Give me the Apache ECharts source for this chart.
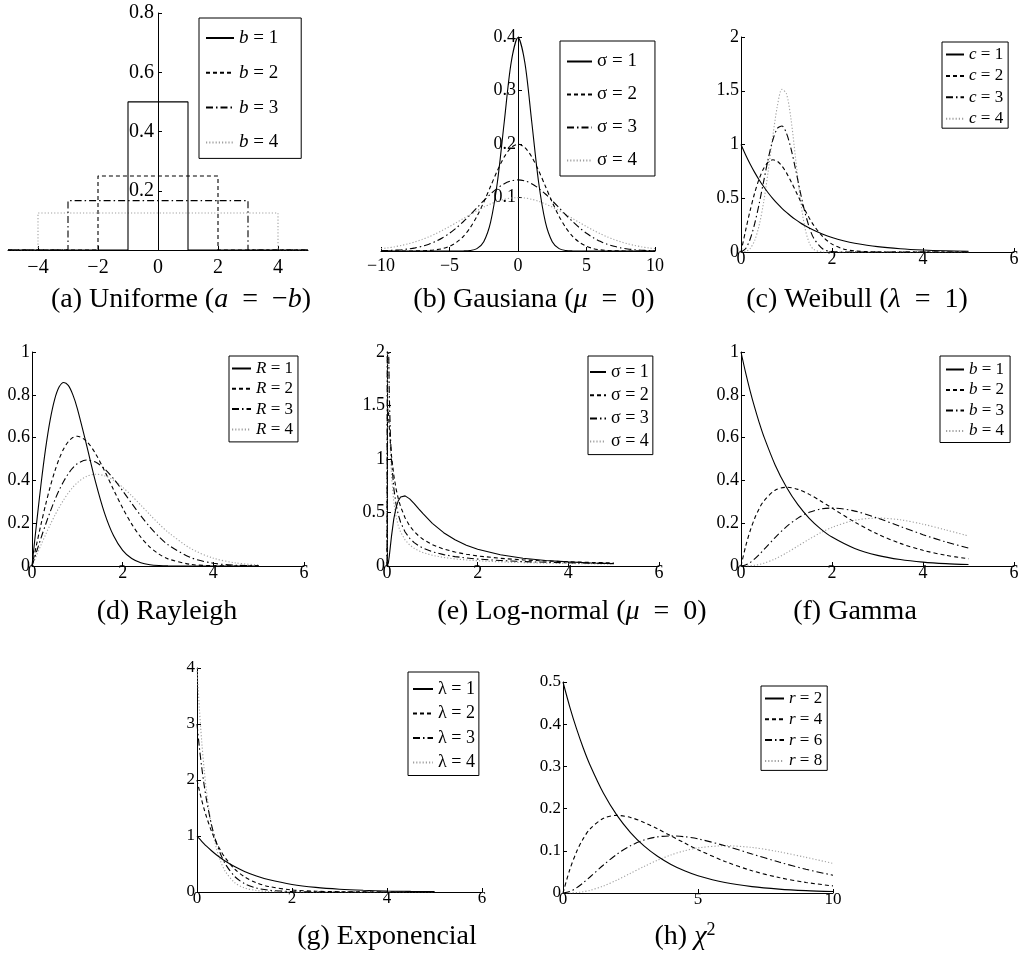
<!DOCTYPE html>
<html><head><meta charset="utf-8">
<script src="https://cdn.jsdelivr.net/npm/echarts@6/dist/echarts.min.js"></script>
<style>html,body{margin:0;padding:0;background:#fff}#c{width:1022px;height:957px}</style>
</head><body><div id="c"></div>
<script>
// ---------- (a) Uniforme ----------
const uniX1 = [-5,-1,-1,1,1,5], uniY1 = [0,0,0.5,0.5,0,0];
const uniX2 = [-5,-2,-2,2,2,5], uniY2 = [0,0,0.25,0.25,0,0];
const uniX3 = [-5,-3,-3,3,3,5], uniY3 = [0,0,0.1667,0.1667,0,0];
const uniX4 = [-5,-4,-4,4,4,5], uniY4 = [0,0,0.125,0.125,0,0];
const uniTicks = [-4,-2,0,2,4];
// ---------- (b) Gausiana ----------
const gaussX = [-10,-9.5,-9,-8.5,-8,-7.5,-7,-6.5,-6,-5.5,-5,-4.5,-4,-3.5,-3,-2.5,-2,-1.5,-1,-0.5,0,0.5,1,1.5,2,2.5,3,3.5,4,4.5,5,5.5,6,6.5,7,7.5,8,8.5,9,9.5,10];
const gauss1 = [0,0,0,0,0,0,0,0,0,0,0,0.00002,0.00013,0.00087,0.00443,0.0175,0.0540,0.1295,0.2420,0.3521,0.3989,0.3521,0.2420,0.1295,0.0540,0.0175,0.00443,0.00087,0.00013,0.00002,0,0,0,0,0,0,0,0,0,0,0];
const gauss2 = [0,0,0.00001,0.00003,0.00007,0.00018,0.00044,0.00101,0.00222,0.00455,0.00876,0.0159,0.0270,0.0431,0.0648,0.0913,0.1210,0.1506,0.1760,0.1933,0.1995,0.1933,0.1760,0.1506,0.1210,0.0913,0.0648,0.0431,0.0270,0.0159,0.00876,0.00455,0.00222,0.00101,0.00044,0.00018,0.00007,0.00003,0.00001,0,0];
const gauss3 = [0.00051,0.00088,0.00148,0.00240,0.00380,0.00584,0.00874,0.0127,0.0180,0.0248,0.0332,0.0432,0.0547,0.0673,0.0807,0.0940,0.1065,0.1174,0.1258,0.1311,0.1330,0.1311,0.1258,0.1174,0.1065,0.0940,0.0807,0.0673,0.0547,0.0432,0.0332,0.0248,0.0180,0.0127,0.00874,0.00584,0.00380,0.00240,0.00148,0.00088,0.00051];
const gauss4 = [0.0044,0.0059,0.0079,0.0104,0.0135,0.0172,0.0216,0.0266,0.0324,0.0388,0.0457,0.0530,0.0605,0.0680,0.0753,0.0820,0.0880,0.0930,0.0967,0.0990,0.0997,0.0990,0.0967,0.0930,0.0880,0.0820,0.0753,0.0680,0.0605,0.0530,0.0457,0.0388,0.0324,0.0266,0.0216,0.0172,0.0135,0.0104,0.0079,0.0059,0.0044];
// ---------- (c) Weibull ----------
const weibX = [0,0.1,0.2,0.3,0.4,0.5,0.6,0.7,0.8,0.9,1.0,1.1,1.2,1.3,1.4,1.5,1.6,1.8,2.0,2.25,2.5,3,3.5,4,4.5,5];
const weib1 = [1,0.9048,0.8187,0.7408,0.6703,0.6065,0.5488,0.4966,0.4493,0.4066,0.3679,0.3329,0.3012,0.2725,0.2466,0.2231,0.2019,0.1653,0.1353,0.1054,0.0821,0.0498,0.0302,0.0183,0.0111,0.0067];
const weib2 = [0,0.1980,0.3843,0.5484,0.6817,0.7788,0.8372,0.8577,0.8437,0.8007,0.7358,0.6560,0.5686,0.4798,0.3944,0.3162,0.2474,0.1410,0.0733,0.0285,0.0097,0.0007,0,0,0,0];
const weib3 = [0,0.0300,0.1190,0.2628,0.4502,0.6619,0.8702,1.0432,1.1506,1.1722,1.1036,0.9591,0.7674,0.5634,0.3782,0.2310,0.1278,0.0285,0.0040,0.0002,0,0,0,0,0,0];
const weib4 = [0,0.0040,0.0319,0.1071,0.2495,0.4697,0.7590,1.0792,1.3597,1.5130,1.4715,1.2314,0.8692,0.5054,0.2355,0.0855,0.0233,0.0006,0,0,0,0,0,0,0,0];
// ---------- (d) Rayleigh ----------
const rayX = [0,0.1,0.2,0.3,0.4,0.5,0.6,0.7,0.8,0.9,1.0,1.2,1.4,1.6,1.8,2.0,2.2,2.4,2.6,2.8,3.0,3.5,4.0,4.5,5.0];
const ray1 = [0,0.1980,0.3843,0.5484,0.6817,0.7788,0.8372,0.8577,0.8437,0.8007,0.7358,0.5686,0.3944,0.2474,0.1410,0.0733,0.0348,0.0151,0.0060,0.0022,0.0007,0,0,0,0];
const ray2 = [0,0.0995,0.1960,0.2868,0.3692,0.4412,0.5012,0.5479,0.5809,0.6003,0.6065,0.5841,0.5254,0.4449,0.3562,0.2707,0.1956,0.1347,0.0885,0.0556,0.0333,0.0077,0.0013,0.0002,0];
const ray3 = [0,0.0664,0.1316,0.1941,0.2528,0.3067,0.3548,0.3963,0.4309,0.4580,0.4777,0.4950,0.4856,0.4544,0.4075,0.3515,0.2922,0.2346,0.1821,0.1368,0.0996,0.0393,0.0129,0.0035,0.0008];
const ray4 = [0,0.0499,0.0990,0.1467,0.1922,0.2349,0.2742,0.3096,0.3409,0.3675,0.3894,0.4186,0.4288,0.4218,0.4004,0.3679,0.3280,0.2843,0.2399,0.1972,0.1581,0.0818,0.0366,0.0142,0.0048];
// ---------- (e) Log-normal ----------
const lognX = [0,0.01,0.02,0.03,0.05,0.075,0.1,0.15,0.2,0.25,0.3,0.4,0.5,0.6,0.7,0.8,1.0,1.25,1.5,1.75,2,2.5,3,3.5,4,4.5,5];
const logn1 = [0,0.0010,0.0095,0.0284,0.0898,0.1857,0.2815,0.4398,0.5462,0.6105,0.6442,0.6555,0.6275,0.5836,0.5348,0.4864,0.3989,0.3113,0.2450,0.1949,0.1569,0.1049,0.0727,0.0520,0.0382,0.0286,0.0218];
const logn2 = [0,1.4075,1.4724,1.4299,1.2993,1.1497,1.0282,0.8480,0.7215,0.6275,0.5547,0.4490,0.3757,0.3218,0.2805,0.2478,0.1995,0.1586,0.1303,0.1096,0.0939,0.0718,0.0572,0.0468,0.0392,0.0334,0.0289];
const logn3 = [0,4.0933,2.8412,2.2387,1.6154,1.2214,0.9906,0.7259,0.5758,0.4781,0.4090,0.3173,0.2590,0.2184,0.1886,0.1658,0.1330,0.1061,0.0878,0.0747,0.0647,0.0508,0.0415,0.0348,0.0299,0.0261,0.0230];
const logn4 = [0,5.1407,3.0911,2.2638,1.5069,1.0783,0.8451,0.5942,0.4599,0.3757,0.3177,0.2429,0.1965,0.1649,0.1419,0.1245,0.0997,0.0797,0.0662,0.0564,0.0491,0.0389,0.0320,0.0271,0.0235,0.0207,0.0184];
// ---------- (f) Gamma ----------
const gamX = [0,0.1,0.2,0.3,0.4,0.5,0.75,1,1.25,1.5,1.75,2,2.5,3,3.5,4,4.5,5];
const gam1 = [1,0.9048,0.8187,0.7408,0.6703,0.6065,0.4724,0.3679,0.2865,0.2231,0.1738,0.1353,0.0821,0.0498,0.0302,0.0183,0.0111,0.0067];
const gam2 = [0,0.0905,0.1637,0.2222,0.2681,0.3033,0.3543,0.3679,0.3581,0.3347,0.3041,0.2707,0.2052,0.1494,0.1057,0.0733,0.0500,0.0337];
const gam3 = [0,0.0045,0.0164,0.0333,0.0536,0.0758,0.1329,0.1839,0.2238,0.2510,0.2661,0.2707,0.2565,0.2240,0.1850,0.1465,0.1125,0.0842];
const gam4 = [0,0.0002,0.0011,0.0033,0.0072,0.0126,0.0332,0.0613,0.0933,0.1255,0.1552,0.1804,0.2138,0.2240,0.2158,0.1954,0.1687,0.1404];
// ---------- (g) Exponencial ----------
const expX = [0,0.05,0.1,0.15,0.2,0.3,0.4,0.5,0.6,0.8,1.0,1.25,1.5,2,2.5,3,3.5,4,4.5,5];
const exp1 = [1,0.9512,0.9048,0.8607,0.8187,0.7408,0.6703,0.6065,0.5488,0.4493,0.3679,0.2865,0.2231,0.1353,0.0821,0.0498,0.0302,0.0183,0.0111,0.0067];
const exp2 = [2,1.8097,1.6375,1.4816,1.3406,1.0976,0.8987,0.7358,0.6024,0.4038,0.2707,0.1642,0.0996,0.0366,0.0135,0.0050,0.0018,0.0007,0.0002,0.0001];
const exp3 = [3,2.5821,2.2225,1.9129,1.6464,1.2197,0.9036,0.6694,0.4959,0.2722,0.1494,0.0706,0.0333,0.0074,0.0017,0.0004,0.0001,0,0,0];
const exp4 = [4,3.2749,2.6813,2.1952,1.7973,1.2048,0.8076,0.5413,0.3629,0.1630,0.0733,0.0270,0.0099,0.0013,0.0002,0,0,0,0,0];
// ---------- (h) chi-squared ----------
const chiX = [0,0.25,0.5,0.75,1,1.5,2,2.5,3,3.5,4,4.5,5,6,7,8,9,10];
const chi2 = [0.5,0.4412,0.3894,0.3436,0.3033,0.2362,0.1839,0.1433,0.1116,0.0869,0.0677,0.0527,0.0410,0.0249,0.0151,0.0092,0.0056,0.0034];
const chi4 = [0,0.0552,0.0974,0.1289,0.1516,0.1771,0.1839,0.1791,0.1673,0.1521,0.1353,0.1186,0.1026,0.0747,0.0528,0.0366,0.0250,0.0168];
const chi6 = [0,0.0034,0.0122,0.0242,0.0379,0.0664,0.0920,0.1119,0.1255,0.1330,0.1353,0.1334,0.1283,0.1120,0.0925,0.0733,0.0562,0.0421];
const chi8 = [0,0.0001,0.0010,0.0030,0.0063,0.0166,0.0307,0.0466,0.0628,0.0776,0.0902,0.1001,0.1069,0.1120,0.1079,0.0977,0.0844,0.0702];
// ---------- labels ----------
const labA = ['{i|b} = 1','{i|b} = 2','{i|b} = 3','{i|b} = 4'];
const labB = ['σ = 1','σ = 2','σ = 3','σ = 4'];
const labC = ['{i|c} = 1','{i|c} = 2','{i|c} = 3','{i|c} = 4'];
const labD = ['{i|R} = 1','{i|R} = 2','{i|R} = 3','{i|R} = 4'];
const labE = ['σ = 1','σ = 2','σ = 3','σ = 4'];
const labF = ['{i|b} = 1','{i|b} = 2','{i|b} = 3','{i|b} = 4'];
const labG = ['λ = 1','λ = 2','λ = 3','λ = 4'];
const labH = ['{i|r} = 2','{i|r} = 4','{i|r} = 6','{i|r} = 8'];
const captions = ['(a) Uniforme ({i|a}\u2002=\u2002−{i|b})','(b) Gausiana ({i|μ}\u2002=\u20020)','(c) Weibull ({i|λ}\u2002=\u20021)',
  '(d) Rayleigh','(e) Log-normal ({i|μ}\u2002=\u20020)','(f) Gamma','(g) Exponencial','(h) {i|χ}{sup|2}'];

const FONT = 'Liberation Serif';
const STY = [
  {color:'#000', width:1.1, type:'solid'},
  {color:'#000', width:1.1, type:[4,3]},
  {color:'#000', width:1.1, type:[7,3,1.5,3]},
  {color:'#a0a0a0', width:1.1, type:[1.2,2]}
];
const zip = (xs, ys) => xs.map((x, i) => [x, ys[i]]);
const minus = v => String(v).replace('-', '\u2212');

const panels = [
  {xs:[uniX1,uniX2,uniX3,uniX4], ys:[uniY1,uniY2,uniY3,uniY4], lab:labA, smooth:false,
   grid:{left:8,top:13,width:300,height:237}, yOff:-150, x:{min:-5,max:5,custom:uniTicks}, y:{min:0,max:0.8,interval:0.2,hideMin:true},
   fs:20, xm:8, ym:4,
   lg:{left:199,top:18,fs:19,rh:20,pad:[10,23,6,6],gap:14.8,iw:28}, cap:[181,300]},
  {xs:[gaussX,gaussX,gaussX,gaussX], ys:[gauss1,gauss2,gauss3,gauss4], lab:labB, smooth:0.3,
   grid:{left:381,top:37,width:274,height:214}, yOff:-137, x:{min:-10,max:10,interval:5}, y:{min:0,max:0.4,interval:0.1,hideMin:true},
   fs:18, xm:6, ym:2,
   lg:{left:560,top:41,fs:19,rh:18,pad:[11,18,6,6],gap:14,iw:25}, cap:[534,300]},
  {xs:[weibX,weibX,weibX,weibX], ys:[weib1,weib2,weib3,weib4], lab:labC, smooth:0.3,
   grid:{left:741,top:37,width:273,height:215}, yOff:0, x:{min:0,max:6,interval:2}, y:{min:0,max:2,interval:0.5},
   fs:18, xm:-2, ym:2,
   lg:{left:942,top:42,fs:17,rh:16,pad:[4,5,1,3],gap:4.4,iw:18}, cap:[857,300]},
  {xs:[rayX,rayX,rayX,rayX], ys:[ray1,ray2,ray3,ray4], lab:labD, smooth:0.3,
   grid:{left:32,top:352,width:272,height:214}, yOff:0, x:{min:0,max:6,interval:2}, y:{min:0,max:1,interval:0.2},
   fs:18, xm:-2, ym:2,
   lg:{left:229,top:356,fs:17,rh:16,pad:[4,5,4,2],gap:3.3,iw:19}, cap:[167,612]},
  {xs:[lognX,lognX,lognX,lognX], ys:[logn1,logn2,logn3,logn4], lab:labE, smooth:false,
   grid:{left:387,top:352,width:272,height:214}, yOff:0, x:{min:0,max:6,interval:2}, y:{min:0,max:2,interval:0.5},
   fs:18, xm:-2, ym:2,
   lg:{left:588,top:356,fs:18,rh:16,pad:[7,4,4,1],gap:5.2,iw:16}, cap:[572,612]},
  {xs:[gamX,gamX,gamX,gamX], ys:[gam1,gam2,gam3,gam4], lab:labF, smooth:0.3,
   grid:{left:741,top:352,width:273,height:214}, yOff:0, x:{min:0,max:6,interval:2}, y:{min:0,max:1,interval:0.2},
   fs:18, xm:-2, ym:2,
   lg:{left:940,top:356,fs:17,rh:16,pad:[5,6,3,5],gap:3.5,iw:18}, cap:[855,612]},
  {xs:[expX,expX,expX,expX], ys:[exp1,exp2,exp3,exp4], lab:labG, smooth:0.3,
   grid:{left:197,top:668,width:285,height:224}, yOff:0, x:{min:0,max:6,interval:2}, y:{min:0,max:4,interval:1},
   fs:17, xm:-2, ym:2,
   lg:{left:408,top:672,fs:18,rh:16,pad:[8,4,4,4],gap:6.5,iw:20}, cap:[387,937]},
  {xs:[chiX,chiX,chiX,chiX], ys:[chi2,chi4,chi6,chi8], lab:labH, smooth:0.3,
   grid:{left:563,top:682,width:270,height:211}, yOff:0, x:{min:0,max:10,interval:5}, y:{min:0,max:0.5,interval:0.1},
   fs:17, xm:-2, ym:2,
   lg:{left:761,top:686,fs:17,rh:16,pad:[4,5,1,3],gap:3.8,iw:19}, cap:[685,937]}
];

const LABEL = {};
const grids = [], xAxes = [], yAxes = [], series = [], legends = [], graphics = [];
panels.forEach((p, k) => {
  grids.push(Object.assign({containLabel:false, outerBoundsMode:'none'}, p.grid));
  const common = {
    type:'value', gridIndex:k,
    axisLine:{onZero:false, lineStyle:{color:'#000', width:1}},
    axisTick:{inside:true, length:4, lineStyle:{color:'#000', width:1}},
    splitLine:{show:false}
  };
  const xa = Object.assign({}, common, {min:p.x.min, max:p.x.max,
    axisLabel:{color:'#000', fontFamily:FONT, fontSize:p.fs, margin:p.xm, formatter:minus}});
  if (p.x.custom) { xa.axisLabel.customValues = p.x.custom; xa.axisTick = Object.assign({}, common.axisTick, {customValues:p.x.custom}); }
  else xa.interval = p.x.interval;
  xAxes.push(xa);
  yAxes.push(Object.assign({}, common, {min:p.y.min, max:p.y.max, interval:p.y.interval, offset:p.yOff,
    axisLabel:{color:'#000', fontFamily:FONT, fontSize:p.fs, margin:p.ym, showMinLabel: !p.y.hideMin, formatter:minus}}));
  const names = [];
  p.ys.forEach((y, j) => {
    const nm = 'p' + k + '_' + j;
    names.push(nm);
    LABEL[nm] = p.lab[j];
    series.push({name:nm, type:'line', xAxisIndex:k, yAxisIndex:k, data:zip(p.xs[j], y),
      symbol:'none', smooth:p.smooth, clip:true, silent:true, animation:false,
      lineStyle:STY[j], itemStyle:{color:STY[j].color}, z:2 + (3 - j)});
  });
  const L = p.lg;
  legends.push({left:L.left, top:L.top, orient:'vertical', data:names, formatter:n => LABEL[n],
    padding:L.pad, itemGap:L.gap, itemWidth:L.iw, itemHeight:10, selectedMode:false,
    borderColor:'#000', borderWidth:1, borderRadius:0, backgroundColor:'#fff',
    itemStyle:{opacity:0},
    textStyle:{color:'#000', fontFamily:FONT, fontSize:L.fs, lineHeight:L.rh,
      rich:{i:{fontStyle:'italic', fontFamily:FONT, fontSize:L.fs, lineHeight:L.rh, color:'#000'}}}});
  graphics.push({type:'text', x:p.cap[0], y:p.cap[1], silent:true,
    style:{text:captions[k], fill:'#000', fontFamily:FONT, fontSize:28, align:'center', verticalAlign:'middle',
      rich:{i:{fontStyle:'italic', fontFamily:FONT, fontSize:28, lineHeight:32},
            sup:{fontFamily:FONT, fontSize:18, verticalAlign:'top', lineHeight:32}}}});
});

const chart = echarts.init(document.getElementById('c'));
chart.setOption({
  animation:false, backgroundColor:'#fff',
  grid:grids, xAxis:xAxes, yAxis:yAxes, series:series, legend:legends, graphic:graphics
});
</script></body></html>
